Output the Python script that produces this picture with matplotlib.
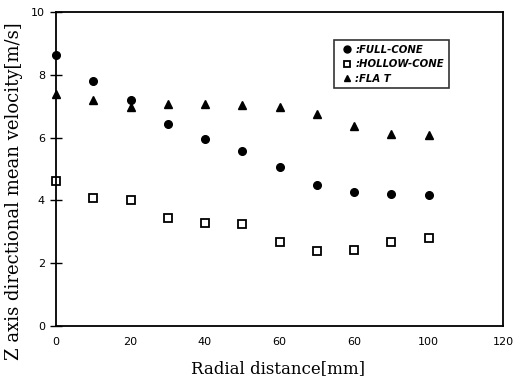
import numpy as np
import matplotlib.pyplot as plt

# distance radiale (mm)
r = [0, 10, 20, 30, 40, 50, 60, 70, 80, 90, 100]

# vitesses moyennes suivant Z (m/s)
full_cone = [8.63, 7.80, 7.20, 6.42, 5.95, 5.58, 5.05, 4.48, 4.28, 4.20, 4.17]
hollow_cone = [4.62, 4.08, 4.02, 3.45, 3.27, 3.24, 2.67, 2.40, 2.42, 2.68, 2.80]
flat = [7.40, 7.20, 6.98, 7.08, 7.06, 7.05, 6.97, 6.75, 6.37, 6.10, 6.07]

xticks = [0, 20, 40, 60, 80, 100, 120]
xticklabels = ['0', '20', '40', '60', '60', '100', '120']
yticks = [0, 2, 4, 6, 8, 10]

fig = plt.figure(figsize=(5.25, 3.79), dpi=100)
ax = fig.add_axes([56/525, 1 - 326/379, (503-56)/525, (326-12)/379])

ax.plot(r, full_cone, 'o', color='black', ms=5.5, label=':FULL-CONE', clip_on=False)
ax.plot(r, hollow_cone, 's', mfc='white', mec='black', mew=1.3, ms=5.5,
        label=':HOLLOW-CONE', clip_on=False)
ax.plot(r, flat, '^', color='black', ms=5.5, label=':FLA T', clip_on=False)

ax.set_xlim(0, 120)
ax.set_ylim(0, 10)
ax.set_xticks(xticks)
ax.set_xticklabels(xticklabels)
ax.set_yticks(yticks)
ax.tick_params(axis='y', direction='inout', length=8, width=1, labelsize=8, pad=4)
ax.tick_params(axis='x', length=0, labelsize=8, pad=8)
for s in ax.spines.values():
    s.set_linewidth(1.3)

ax.set_xlabel('Radial distance[mm]', family='DejaVu Serif', fontsize=12)
ax.set_ylabel('Z axis directional mean velocity[m/s]', family='DejaVu Serif',
              fontsize=13)
ax.xaxis.set_label_coords(0.497, -0.108)
ax.yaxis.set_label_coords(-0.074, 0.43)

leg = ax.legend(loc='upper left', bbox_to_anchor=(0.622, 0.911), frameon=True,
                fancybox=False, edgecolor='black', handlelength=1.6,
                handletextpad=0.05, borderpad=0.45, labelspacing=0.45,
                borderaxespad=0,
                prop={'size': 7.3, 'style': 'italic', 'weight': 'bold'})
leg.get_frame().set_linewidth(1.2)
for h in leg.legend_handles:
    h.set_markersize(5)

fig.savefig('out.png', dpi=100)
